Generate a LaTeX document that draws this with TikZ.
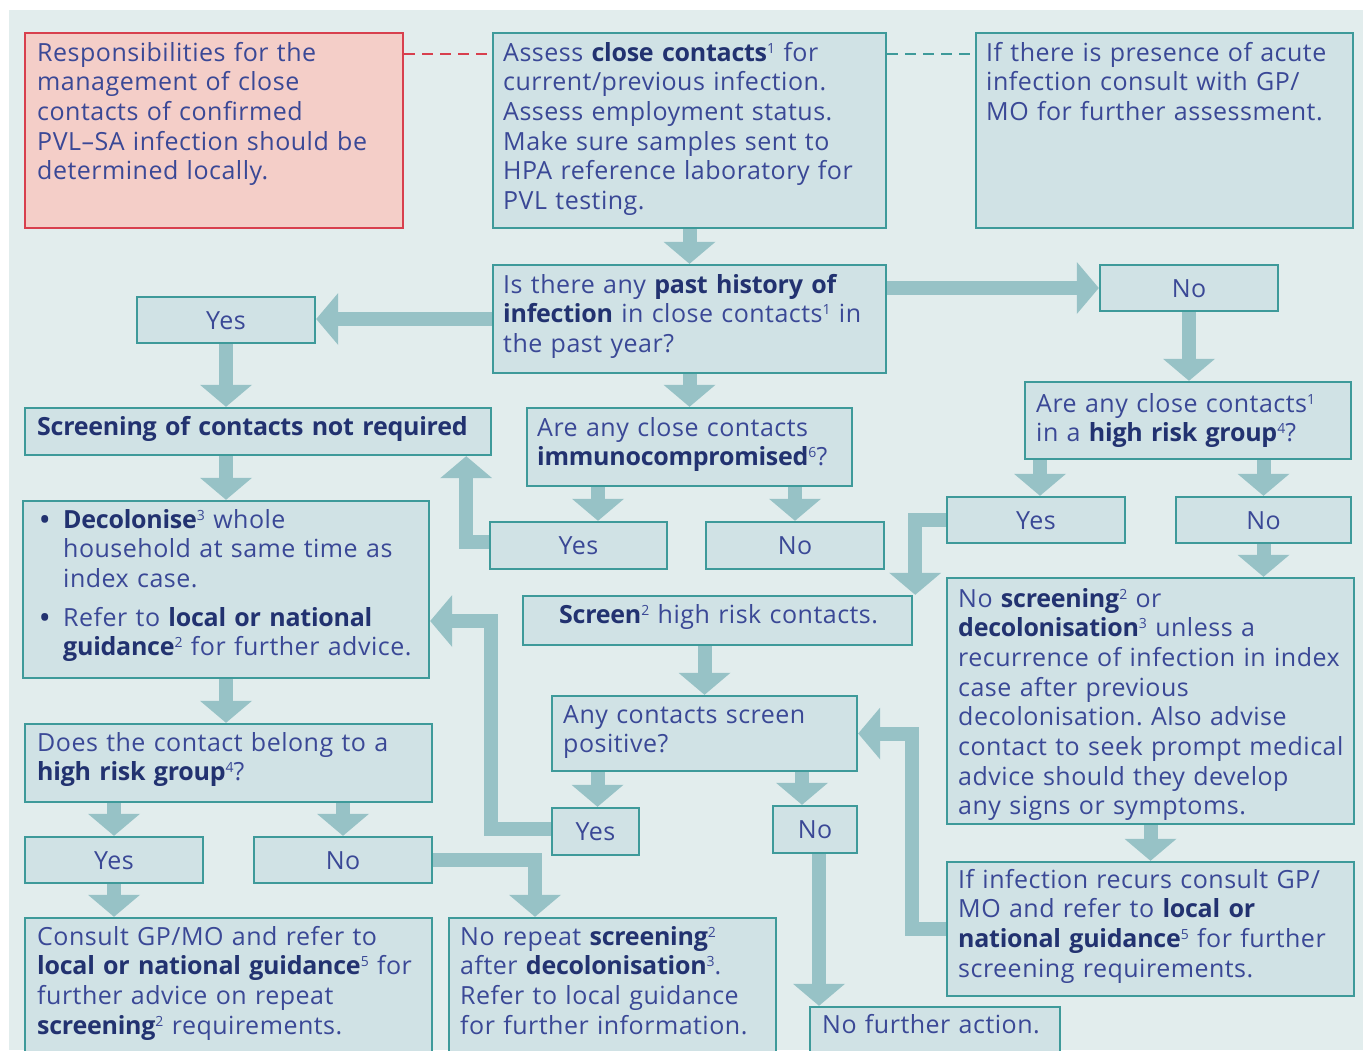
\documentclass[tikz,border=0pt]{standalone}
\usepackage{fontspec}
\setmainfont{Open Sans}[LetterSpace=2.0, BoldFeatures={LetterSpace=-1.0}]
\usetikzlibrary{arrows.meta,fit,calc}
\definecolor{bgc}{HTML}{E2EDED}
\definecolor{boxfill}{HTML}{D0E2E5}
\definecolor{boxline}{HTML}{3E9A9A}
\definecolor{redfill}{HTML}{F4CEC8}
\definecolor{redline}{HTML}{D8404E}
\definecolor{arrowc}{HTML}{97C2C6}
\definecolor{txtc}{HTML}{3A4896}
\definecolor{boldc}{HTML}{223270}
\pgfdeclarelayer{back}
\pgfdeclarelayer{arrowlayer}
\pgfsetlayers{back,arrowlayer,main}
\newcommand\bt[1]{{\bfseries\color{boldc}#1}}
\newcommand\fnm[1]{\raisebox{8pt}{\fontsize{14}{14}\selectfont\mdseries #1}}
\newcommand\bul{\makebox[23pt][l]{\color{boldc}\bfseries •}}
\tikzset{
  box/.style={draw=boxline, fill=boxfill, line width=2.4pt, inner sep=0pt},
  redbox/.style={draw=redline, fill=redfill, line width=2.4pt, inner sep=0pt},
  txt/.style={inner sep=0pt, text width=440pt, align=left, anchor=base west, font=\fontsize{25}{29.7}\selectfont\frenchspacing, text=txtc},
  lbl/.style={inner sep=0pt, anchor=base, font=\fontsize{25}{29.7}\selectfont, text=txtc},
  flow/.style={draw=arrowc, line width=14pt, -{Triangle[width=52pt,length=22pt,line width=0pt]}},
  dashr/.style={draw=redline, line width=1.6pt, dash pattern=on 11pt off 7pt},
  dasht/.style={draw=boxline, line width=1.6pt, dash pattern=on 11pt off 7pt},
}
\begin{document}
\begin{tikzpicture}[x=1pt,y=-1pt]
\useasboundingbox (0,0) rectangle (1363,1050);
\clip (0,0) rectangle (1363,1050);
\begin{pgfonlayer}{back}
\fill[white] (0,0) rectangle (1363,1050);
\fill[bgc] (9,10) rectangle (1363,1050);
\end{pgfonlayer}

% boxes
\node[redbox, fit={(25,33) (403,228)}] (red) {};
\node[box, fit={(493,33) (886,228)}] (assess) {};
\node[box, fit={(976,33) (1353,228)}] (acute) {};
\node[box, fit={(493,265) (886,373)}] (past) {};
\node[box, fit={(137,297) (315,343)}] (yesA) {};
\node[box, fit={(1100,265) (1278,311)}] (noA) {};
\node[box, fit={(25,408) (491,455)}] (notreq) {};
\node[box, fit={(527,408) (852,486)}] (imm) {};
\node[box, fit={(1025,382) (1351,459)}] (hr) {};
\node[box, fit={(490,522) (667,569)}] (yesI) {};
\node[box, fit={(706,522) (884,569)}] (noI) {};
\node[box, fit={(947,497) (1125,543)}] (yesH) {};
\node[box, fit={(1176,497) (1351,543)}] (noH) {};
\node[box, fit={(23,501) (429,678)}] (decol) {};
\node[box, fit={(523,596) (912,645)}] (screen) {};
\node[box, fit={(947,578) (1354,824)}] (noscr) {};
\node[box, fit={(552,696) (857,771)}] (any) {};
\node[box, fit={(25,724) (432,802)}] (does) {};
\node[box, fit={(552,808) (639,855)}] (yesAny) {};
\node[box, fit={(773,806) (857,853)}] (noAny) {};
\node[box, fit={(25,837) (203,883)}] (yesD) {};
\node[box, fit={(254,837) (432,883)}] (noD) {};
\node[box, fit={(947,862) (1354,996)}] (ifinf) {};
\node[box, fit={(25,918) (432,1070)}] (consult) {};
\node[box, fit={(449,918) (776,1070)}] (norep) {};
\node[box, fit={(810,1007) (1060,1070)}] (nofurther) {};

% yes / no labels
\node[lbl] (yesA-t) at ([yshift=-9pt]yesA.center) {Yes};
\node[lbl] (noA-t) at ([yshift=-9pt]noA.center) {No};
\node[lbl] (yesI-t) at ([yshift=-9pt]yesI.center) {Yes};
\node[lbl] (noI-t) at ([yshift=-9pt]noI.center) {No};
\node[lbl] (yesH-t) at ([yshift=-9pt]yesH.center) {Yes};
\node[lbl] (noH-t) at ([yshift=-9pt]noH.center) {No};
\node[lbl] (yesAny-t) at ([yshift=-9pt]yesAny.center) {Yes};
\node[lbl] (noAny-t) at ([yshift=-9pt]noAny.center) {No};
\node[lbl] (yesD-t) at ([yshift=-9pt]yesD.center) {Yes};
\node[lbl] (noD-t) at ([yshift=-9pt]noD.center) {No};

% texts
\node[txt] (red-t) at (37,61) {Responsibilities for the\\management of close\\contacts of confirmed\\PVL–SA infection should be\\determined locally.};
\node[txt] (assess-t) at (503,61) {Assess \bt{close contacts}\fnm{1} for\\current/previous infection.\\Assess employment status.\\Make sure samples sent to\\HPA reference laboratory for\\PVL testing.};
\node[txt] (acute-t) at (986,61) {If there is presence of acute\\infection consult with GP/\\MO for further assessment.};
\node[txt] (past-t) at (503,293) {Is there any \bt{past history of}\\\bt{infection} in close contacts\fnm{1} in\\the past year?};
\node[txt] (notreq-t) at (37,435) {\bt{Screening of contacts not required}};
\node[txt] (imm-t) at (537,436) {Are any close contacts\\\bt{immunocompromised}\fnm{6}?};
\node[txt] (hr-t) at (1036,412) {Are any close contacts\fnm{1}\\in a \bt{high risk group}\fnm{4}?};
\node[txt] (decol-t) at (40,528) {\bul\bt{Decolonise}\fnm{3} whole\\
\hspace*{23pt}household at same time as\\
\hspace*{23pt}index case.\\[9pt]
\bul Refer to \bt{local or national}\\
\hspace*{23pt}\bt{guidance}\fnm{2} for further advice.};
\node[txt] (screen-t) at (559,623) {\bt{Screen}\fnm{2} high risk contacts.};
\node[txt] (any-t) at (563,723) {Any contacts screen\\positive?};
\node[txt] (noscr-t) at (958,607) {No \bt{screening}\fnm{2} or\\\bt{decolonisation}\fnm{3} unless a\\recurrence of infection in index\\case after previous\\decolonisation. Also advise\\contact to seek prompt medical\\advice should they develop\\any signs or symptoms.};
\node[txt] (ifinf-t) at (958,888) {If infection recurs consult GP/\\MO and refer to \bt{local or}\\\bt{national guidance}\fnm{5} for further\\screening requirements.};
\node[txt] (does-t) at (37,751) {Does the contact belong to a\\\bt{high risk group}\fnm{4}?};
\node[txt] (consult-t) at (37,945) {Consult GP/MO and refer to\\\bt{local or national guidance}\fnm{5} for\\further advice on repeat\\\bt{screening}\fnm{2} requirements.};
\node[txt] (norep-t) at (460,945) {No repeat \bt{screening}\fnm{2}\\after \bt{decolonisation}\fnm{3}.\\Refer to local guidance\\for further information.};
\node[txt] (nofurther-t) at (822,1033) {No further action.};

% connectors
\begin{pgfonlayer}{arrowlayer}
\draw[dashr] ([yshift=-22pt]red.north east) -- ([yshift=-22pt]assess.north west);
\draw[dasht] ([yshift=-22pt]assess.north east) -- ([yshift=-22pt]acute.north west);
\draw[flow] (assess.south) -- (past.north);
\draw[flow] (past.west) -- (past.west -| yesA.east);
\draw[flow] (past.east |- noA.west) -- (noA.west);
\draw[flow] (past.south) -- (imm.north);
\draw[flow] (noA.south) -- (noA.south |- hr.north);
\draw[flow] (yesA.south) -- (yesA.south |- notreq.north);
\draw[flow] (decol.north |- notreq.south) -- (decol.north);
\draw[flow] (decol.south) -- (decol.south |- does.north);
\draw[flow] ([xshift=-91.5pt]imm.south) -- ([xshift=-91.5pt]imm.south |- yesI.north);
\draw[flow] (noI.north |- imm.south) -- (noI.north);
\draw[flow] ([yshift=4pt]yesI.west) -| ([xshift=-26pt]notreq.south east);
\draw[flow] ([xshift=4pt]yesH.north |- hr.south) -- ([xshift=4pt]yesH.north);
\draw[flow] (noH.north |- hr.south) -- (noH.north);
\draw[flow] (noH.south) -- (noH.south |- noscr.north);
\draw[flow] (yesH.west) -| ([xshift=2pt]screen.north east);
\draw[flow] (any.north |- screen.south) -- (any.north);
\draw[flow] ([xshift=2pt]yesAny.north |- any.south) -- ([xshift=2pt]yesAny.north);
\draw[flow] ([xshift=97.5pt]any.south) -- ([xshift=97.5pt]any.south |- noAny.north);
\draw[flow] ([yshift=3pt]yesAny.west) -- ++(-60,0) |- ([yshift=-31.5pt]decol.east);
\draw[flow] ([xshift=4pt]noAny.south) -- ([xshift=4pt]noAny.south |- nofurther.north);
\draw[flow] (noscr.south) -- (ifinf.north);
\draw[flow] (ifinf.west) -- ++(-34,0) |- (any.east);
\draw[flow] (yesD.north |- does.south) -- (yesD.north);
\draw[flow] (noD.north |- does.south) -- (noD.north);
\draw[flow] (yesD.south) -- (yesD.south |- consult.north);
\draw[flow] (noD.east) -| ([xshift=-77.5pt]norep.north);
\end{pgfonlayer}
\end{tikzpicture}
\end{document}
